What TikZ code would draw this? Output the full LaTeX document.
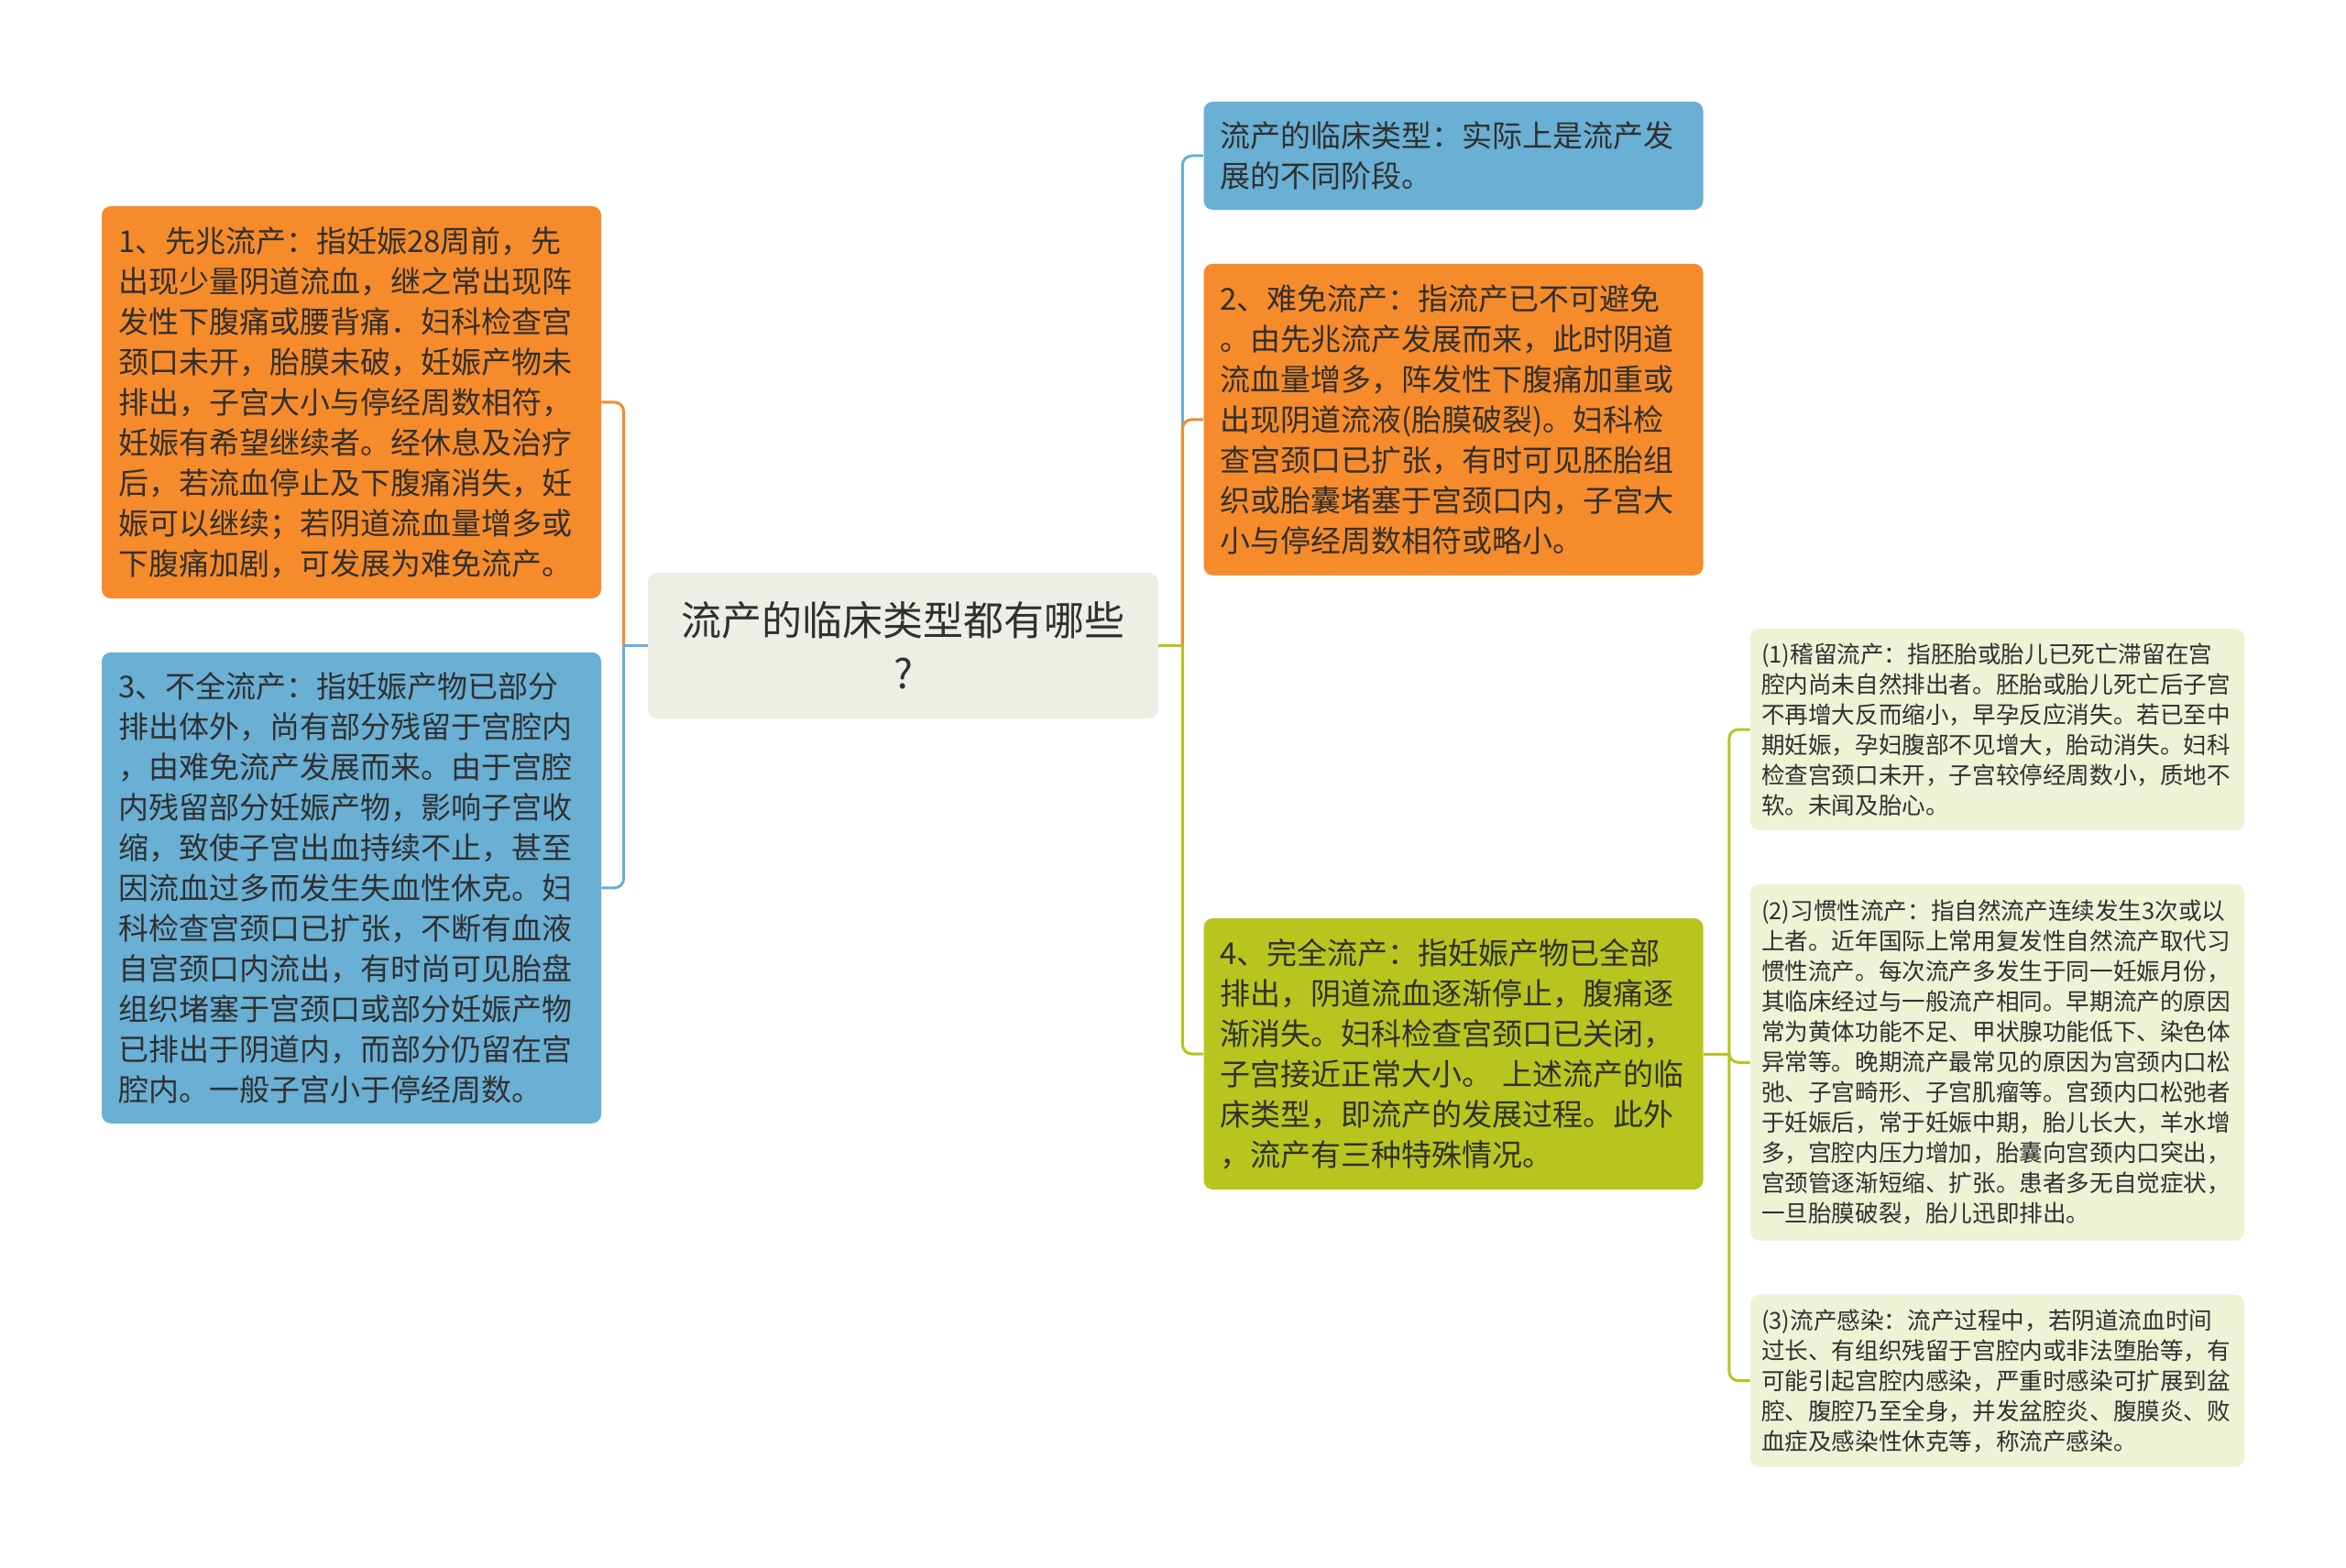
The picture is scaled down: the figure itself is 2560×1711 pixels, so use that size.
\documentclass[tikz,border=0pt]{standalone}
\usepackage{fontspec}
\setmainfont{Noto Sans CJK SC}
\usetikzlibrary{positioning}

\definecolor{mindorange}{HTML}{F68B2B}
\definecolor{mindblue}{HTML}{6AAFD4}
\definecolor{mindgreen}{HTML}{B7C51E}
\definecolor{rootfill}{HTML}{EEEEE7}
\definecolor{leaffill}{HTML}{F0F2D6}
\definecolor{inkgray}{HTML}{303030}

\begin{document}
\begin{tikzpicture}
[x=0.5pt, y=-0.5pt,
 node distance=29pt,
 every node/.style={text=inkgray, rounded corners=5pt, align=left, inner ysep=0pt},
 topic/.style={fill=#1, text width=254.5pt, inner xsep=9pt,
 font=\fontsize{16.5pt}{22pt}\selectfont},
 leaf/.style={fill=leaffill, text width=257.5pt, inner xsep=6pt,
 font=\fontsize{12.8pt}{16.5pt}\selectfont},
 link/.style={draw=#1, line width=1.5pt, rounded corners=5pt},
]

\fill[white] (0,0) rectangle (2560,1711);
\useasboundingbox (0,0) rectangle (2560,1711);

\node[fill=rootfill, text width=260pt, inner xsep=9.25pt, align=center,
      minimum height=79.5pt, font=\fontsize{22pt}{29pt}\selectfont]
      (root) at (985.5,704.5) {流产的临床类型都有哪些\\?};

\node[topic=mindorange, minimum height=214pt] (xianzhao) at (383.5,439)
{1、先兆流产：指妊娠28周前，先\\
出现少量阴道流血，继之常出现阵\\
发性下腹痛或腰背痛．妇科检查宫\\
颈口未开，胎膜未破，妊娠产物未\\
排出，子宫大小与停经周数相符，\\
妊娠有希望继续者。经休息及治疗\\
后，若流血停止及下腹痛消失，妊\\
娠可以继续；若阴道流血量增多或\\
下腹痛加剧，可发展为难免流产。};
\node[topic=mindblue, minimum height=257pt, below=of xianzhao] (buquan)
{3、不全流产：指妊娠产物已部分\\
排出体外，尚有部分残留于宫腔内\\
，由难免流产发展而来。由于宫腔\\
内残留部分妊娠产物，影响子宫收\\
缩，致使子宫出血持续不止，甚至\\
因流血过多而发生失血性休克。妇\\
科检查宫颈口已扩张，不断有血液\\
自宫颈口内流出，有时尚可见胎盘\\
组织堵塞于宫颈口或部分妊娠产物\\
已排出于阴道内，而部分仍留在宫\\
腔内。一般子宫小于停经周数。};

\node[topic=mindblue, minimum height=59pt] (leixing) at (1586,170)
{流产的临床类型：实际上是流产发\\
展的不同阶段。};
\node[topic=mindorange, minimum height=170pt, below=of leixing] (nanmian)
{2、难免流产：指流产已不可避免\\
。由先兆流产发展而来，此时阴道\\
流血量增多，阵发性下腹痛加重或\\
出现阴道流液(胎膜破裂)。妇科检\\
查宫颈口已扩张，有时可见胚胎组\\
织或胎囊堵塞于宫颈口内，子宫大\\
小与停经周数相符或略小。};
\node[topic=mindgreen, minimum height=148pt] (wanquan) at (1586,1150)
{4、完全流产：指妊娠产物已全部\\
排出，阴道流血逐渐停止，腹痛逐\\
渐消失。妇科检查宫颈口已关闭，\\
子宫接近正常大小。 上述流产的临\\
床类型，即流产的发展过程。此外\\
，流产有三种特殊情况。};

\node[leaf, minimum height=110pt] (jiliu) at (2179.5,796)
{(1)稽留流产：指胚胎或胎儿已死亡滞留在宫\\
腔内尚未自然排出者。胚胎或胎儿死亡后子宫\\
不再增大反而缩小，早孕反应消失。若已至中\\
期妊娠，孕妇腹部不见增大，胎动消失。妇科\\
检查宫颈口未开，子宫较停经周数小，质地不\\
软。未闻及胎心。};
\node[leaf, minimum height=194.5pt, below=of jiliu] (xiguan)
{(2)习惯性流产：指自然流产连续发生3次或以\\
上者。近年国际上常用复发性自然流产取代习\\
惯性流产。每次流产多发生于同一妊娠月份，\\
其临床经过与一般流产相同。早期流产的原因\\
常为黄体功能不足、甲状腺功能低下、染色体\\
异常等。晚期流产最常见的原因为宫颈内口松\\
弛、子宫畸形、子宫肌瘤等。宫颈内口松弛者\\
于妊娠后，常于妊娠中期，胎儿长大，羊水增\\
多，宫腔内压力增加，胎囊向宫颈内口突出，\\
宫颈管逐渐短缩、扩张。患者多无自觉症状，\\
一旦胎膜破裂，胎儿迅即排出。};
\node[leaf, minimum height=94pt, below=of xiguan] (ganran)
{(3)流产感染：流产过程中，若阴道流血时间\\
过长、有组织残留于宫腔内或非法堕胎等，有\\
可能引起宫腔内感染，严重时感染可扩展到盆\\
腔、腹腔乃至全身，并发盆腔炎、腹膜炎、败\\
血症及感染性休克等，称流产感染。};

\coordinate[left=13pt of root] (lj);
\coordinate[right=13pt of root] (rj);
\coordinate[right=14pt of wanquan] (wj);

\draw[link=mindorange] (lj) |- (xianzhao.east);
\draw[link=mindblue]   (lj) |- (buquan.east);
\draw[link=mindblue]   (root.west) -- (lj);

\draw[link=mindblue]   (rj) |- (leixing.west);
\draw[link=mindorange] (rj) |- (nanmian.west);
\draw[link=mindgreen]  (rj) |- (wanquan.west);
\draw[link=mindgreen]  (root.east) -- (rj);

\draw[link=mindgreen]  (wj) |- (jiliu.west);
\draw[link=mindgreen]  (wj) |- (xiguan.west);
\draw[link=mindgreen]  (wj) |- (ganran.west);
\draw[link=mindgreen]  (wanquan.east) -- (wj);
\end{tikzpicture}
\end{document}
